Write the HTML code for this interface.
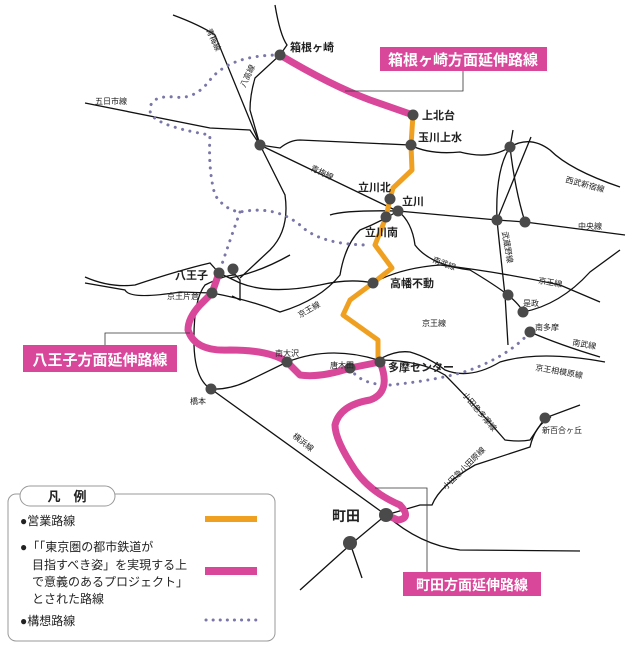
<!DOCTYPE html>
<html><head><meta charset="utf-8"><style>
html,body{margin:0;padding:0;background:#fff}
svg{display:block}
text{font-family:"Liberation Sans","Noto Sans CJK JP",sans-serif}
.s{font-size:8px;fill:#222}
.m{font-size:11px;font-weight:bold;fill:#222}
</style></head><body>
<svg width="640" height="648" viewBox="0 0 640 648" xmlns="http://www.w3.org/2000/svg">
<g fill="none" stroke="#111" stroke-width="1.3">
<path d="M173,15 Q200,25 215,35 L260,145 L285,195 Q290,230 270,250 L240,278"/>
<path d="M275,5 Q280,35 287,45 L280,55 L255,78 Q250,95 250,110 L260,145"/>
<path d="M85,103 L210,128 L250,130 L260,145"/>
<path d="M260,145 L280,148 Q290,140 300,140 L410,145 Q430,155 460,152 Q490,160 510,147 Q530,135 550,150 Q570,170 620,187"/>
<path d="M260,145 L395,210"/>
<path d="M330,215 Q345,210 398,211 L497,220 L525,222 L625,235"/>
<path d="M513,130 L510,147 Q495,170 497,220 Q500,250 505,295 L508,345"/>
<path d="M531,137 L497,220"/>
<path d="M510,147 Q515,190 525,222"/>
<path d="M398,211 Q412,222 415,245 Q430,265 470,270 Q495,285 508,295"/>
<path d="M85,277 Q110,288 135,285 Q180,270 210,263 L219,273 L240,283 Q270,295 320,285 Q350,278 373,283 Q400,268 440,265 Q500,272 560,285 L600,302"/>
<path d="M85,283 L125,290 Q130,300 180,292 L212,293 Q250,300 280,312 Q320,300 340,275 Q345,245 360,230 Q380,222 398,211"/>
<path d="M232,271 L240,280 L240,300 L232,296"/>
<path d="M523,312 Q560,305 590,272 L620,250"/>
<path d="M508,295 Q520,305 523,312"/>
<path d="M530,332 Q560,345 600,357"/>
<path d="M378,360 Q395,350 410,352 Q430,358 445,370 Q470,380 500,362 Q540,350 605,362"/>
<path d="M378,360 Q420,360 445,375 Q470,400 505,440 Q520,442 530,440 L545,418 L580,405"/>
<path d="M386,515 L420,505 L432,505 Q440,485 475,465 L530,447 Q535,425 551,417"/>
<path d="M211,389 L386,515 L350,545 L300,590"/>
<path d="M386,515 Q420,545 460,550 L580,551"/>
<path d="M350,543 L362,578"/>
<path d="M211,389 Q195,380 194,345 Q193,300 205,285 Q225,275 235,275"/>
<path d="M211,389 Q230,390 250,380 L287,362 Q330,345 378,360"/>
<path d="M230,278 Q260,272 290,255"/>
</g>
<g fill="none" stroke="#7a77a8" stroke-width="3" stroke-linecap="round" stroke-dasharray="0.1 7.5">
<path d="M280,55 Q230,55 210,80 Q195,100 175,97 Q150,95 150,110 Q150,125 210,135 Q208,170 215,195 Q225,210 240,212 Q275,205 300,225 Q320,245 370,245"/>
<path d="M240,212 Q230,240 220,270"/>
<path d="M350,368 Q360,385 390,385 Q440,380 470,370 Q510,355 530,332"/>
</g>
<path d="M413,115 L411,145 L412,170 L393,188 L390,199 L386,217 L375,245 L392,268 L373,283 L350,300 L343,315 L378,340 L378,360" fill="none" stroke="#f0a020" stroke-width="5" stroke-linejoin="round"/>
<g fill="none" stroke="#d9479b" stroke-width="7" stroke-linejoin="round" stroke-linecap="round">
<path d="M280,55 Q330,85 370,100 L413,115"/>
<path d="M380,362 Q392,392 370,400 Q340,405 335,425 Q335,440 355,470 Q370,492 400,505 Q412,518 398,520 L386,515"/>
<path d="M380,362 L350,368 Q320,378 300,375 L287,362 Q270,350 230,350 Q195,352 188,330 Q188,318 200,305 L212,293 L219,273"/>
</g>
<g fill="#4a4a4a">
<circle cx="280" cy="55" r="5.5"/><circle cx="413" cy="115" r="5.5"/><circle cx="411" cy="145" r="5.5"/>
<circle cx="260" cy="145" r="5.5"/><circle cx="510" cy="147" r="5.5"/><circle cx="390" cy="199" r="5.5"/>
<circle cx="398" cy="211" r="5.5"/><circle cx="386" cy="217" r="5.5"/><circle cx="497" cy="220" r="5.5"/>
<circle cx="525" cy="222" r="5.5"/><circle cx="373" cy="283" r="5.5"/><circle cx="508" cy="295" r="5.5"/>
<circle cx="523" cy="312" r="5.5"/><circle cx="530" cy="332" r="5.5"/><circle cx="219" cy="273" r="5.5"/>
<circle cx="233" cy="269" r="5.5"/><circle cx="212" cy="293" r="5.5"/><circle cx="287" cy="362" r="5.5"/>
<circle cx="350" cy="368" r="5.5"/><circle cx="380" cy="362" r="5.5"/><circle cx="211" cy="389" r="5.5"/>
<circle cx="545" cy="418" r="5.5"/><circle cx="386" cy="515" r="7"/><circle cx="350" cy="543" r="7"/>
</g>
<g fill="none" stroke="#333" stroke-width="0.8">
<path d="M463,70 L463,91 L345,91"/>
<path d="M105,345 L105,333 L190,333"/>
<path d="M427,573 L427,488 L375,488"/>
</g>
<rect x="380" y="47" width="167" height="24" fill="#d9479b"/>
<text x="463" y="65" text-anchor="middle" font-size="15" font-weight="bold" fill="#fff">箱根ヶ崎方面延伸路線</text>
<rect x="23" y="345" width="154" height="27" fill="#d9479b"/>
<text x="100" y="365" text-anchor="middle" font-size="15" font-weight="bold" fill="#fff">八王子方面延伸路線</text>
<rect x="403" y="572" width="138" height="24" fill="#d9479b"/>
<text x="472" y="590" text-anchor="middle" font-size="14" font-weight="bold" fill="#fff">町田方面延伸路線</text>
<text class="m" x="290" y="51">箱根ヶ崎</text>
<text class="m" x="422" y="119">上北台</text>
<text class="m" x="418" y="141">玉川上水</text>
<text class="m" x="358" y="191">立川北</text>
<text class="m" x="402" y="205">立川</text>
<text class="m" x="365" y="236">立川南</text>
<text class="m" x="390" y="287">高幡不動</text>
<text class="m" x="388" y="371">多摩センター</text>
<text class="m" x="175" y="279" font-size="12">八王子</text>
<text x="332" y="521" font-size="14" font-weight="bold" fill="#222">町田</text>
<text class="s" x="167" y="299">京王片倉</text>
<text class="s" x="275" y="356">南大沢</text>
<text class="s" x="330" y="368">唐木田</text>
<text class="s" x="190" y="404">橋本</text>
<text class="s" x="523" y="306">是政</text>
<text class="s" x="535" y="330">南多摩</text>
<text class="s" x="542" y="433">新百合ヶ丘</text>
<text class="s" x="95" y="104">五日市線</text>
<text class="s" x="565" y="182" transform="rotate(15 565 182)">西武新宿線</text>
<text class="s" x="578" y="229">中央線</text>
<text class="s" x="432" y="262" transform="rotate(20 432 262)">南武線</text>
<text class="s" x="538" y="283" transform="rotate(10 538 283)">京王線</text>
<text class="s" x="422" y="326">京王線</text>
<text class="s" x="572" y="345" transform="rotate(10 572 345)">南武線</text>
<text class="s" x="535" y="370" transform="rotate(10 535 370)">京王相模原線</text>
<text class="s" x="300" y="318" transform="rotate(-30 300 318)">京王線</text>
<text class="s" x="462" y="395" transform="rotate(50 462 395)">小田急多摩線</text>
<text class="s" x="446" y="490" transform="rotate(-45 446 490)">小田急小田原線</text>
<text class="s" x="292" y="437" transform="rotate(38 292 437)">横浜線</text>
<text class="s" x="206" y="30" transform="rotate(65 206 30)">青梅線</text>
<text class="s" x="245" y="88" transform="rotate(-65 245 88)">八高線</text>
<text class="s" x="310" y="170" transform="rotate(25 310 170)">青梅線</text>
<text class="s" x="502" y="232" transform="rotate(80 502 232)">武蔵野線</text>
<rect x="8" y="494" width="267" height="147" rx="8" fill="none" stroke="#999" stroke-width="1"/>
<rect x="20" y="486" width="95" height="20" rx="10" fill="#fff" stroke="#999" stroke-width="1"/>
<text x="67" y="501" text-anchor="middle" font-size="13" font-weight="bold" fill="#222">凡　例</text>
<g font-size="12" fill="#222">
<text x="20" y="525">●営業路線</text>
<text x="20" y="551">●「「東京圏の都市鉄道が</text>
<text x="32" y="569">目指すべき姿」を実現する上</text>
<text x="32" y="586">で意義のあるプロジェクト」</text>
<text x="32" y="603">とされた路線</text>
<text x="20" y="625">●構想路線</text>
</g>
<rect x="205" y="516" width="52" height="6" fill="#f0a020"/>
<rect x="205" y="567" width="52" height="8" fill="#d9479b"/>
<path d="M206,620 L257,620" stroke="#7a77a8" stroke-width="3" stroke-linecap="round" stroke-dasharray="0.1 7"/>
</svg>
</body></html>
